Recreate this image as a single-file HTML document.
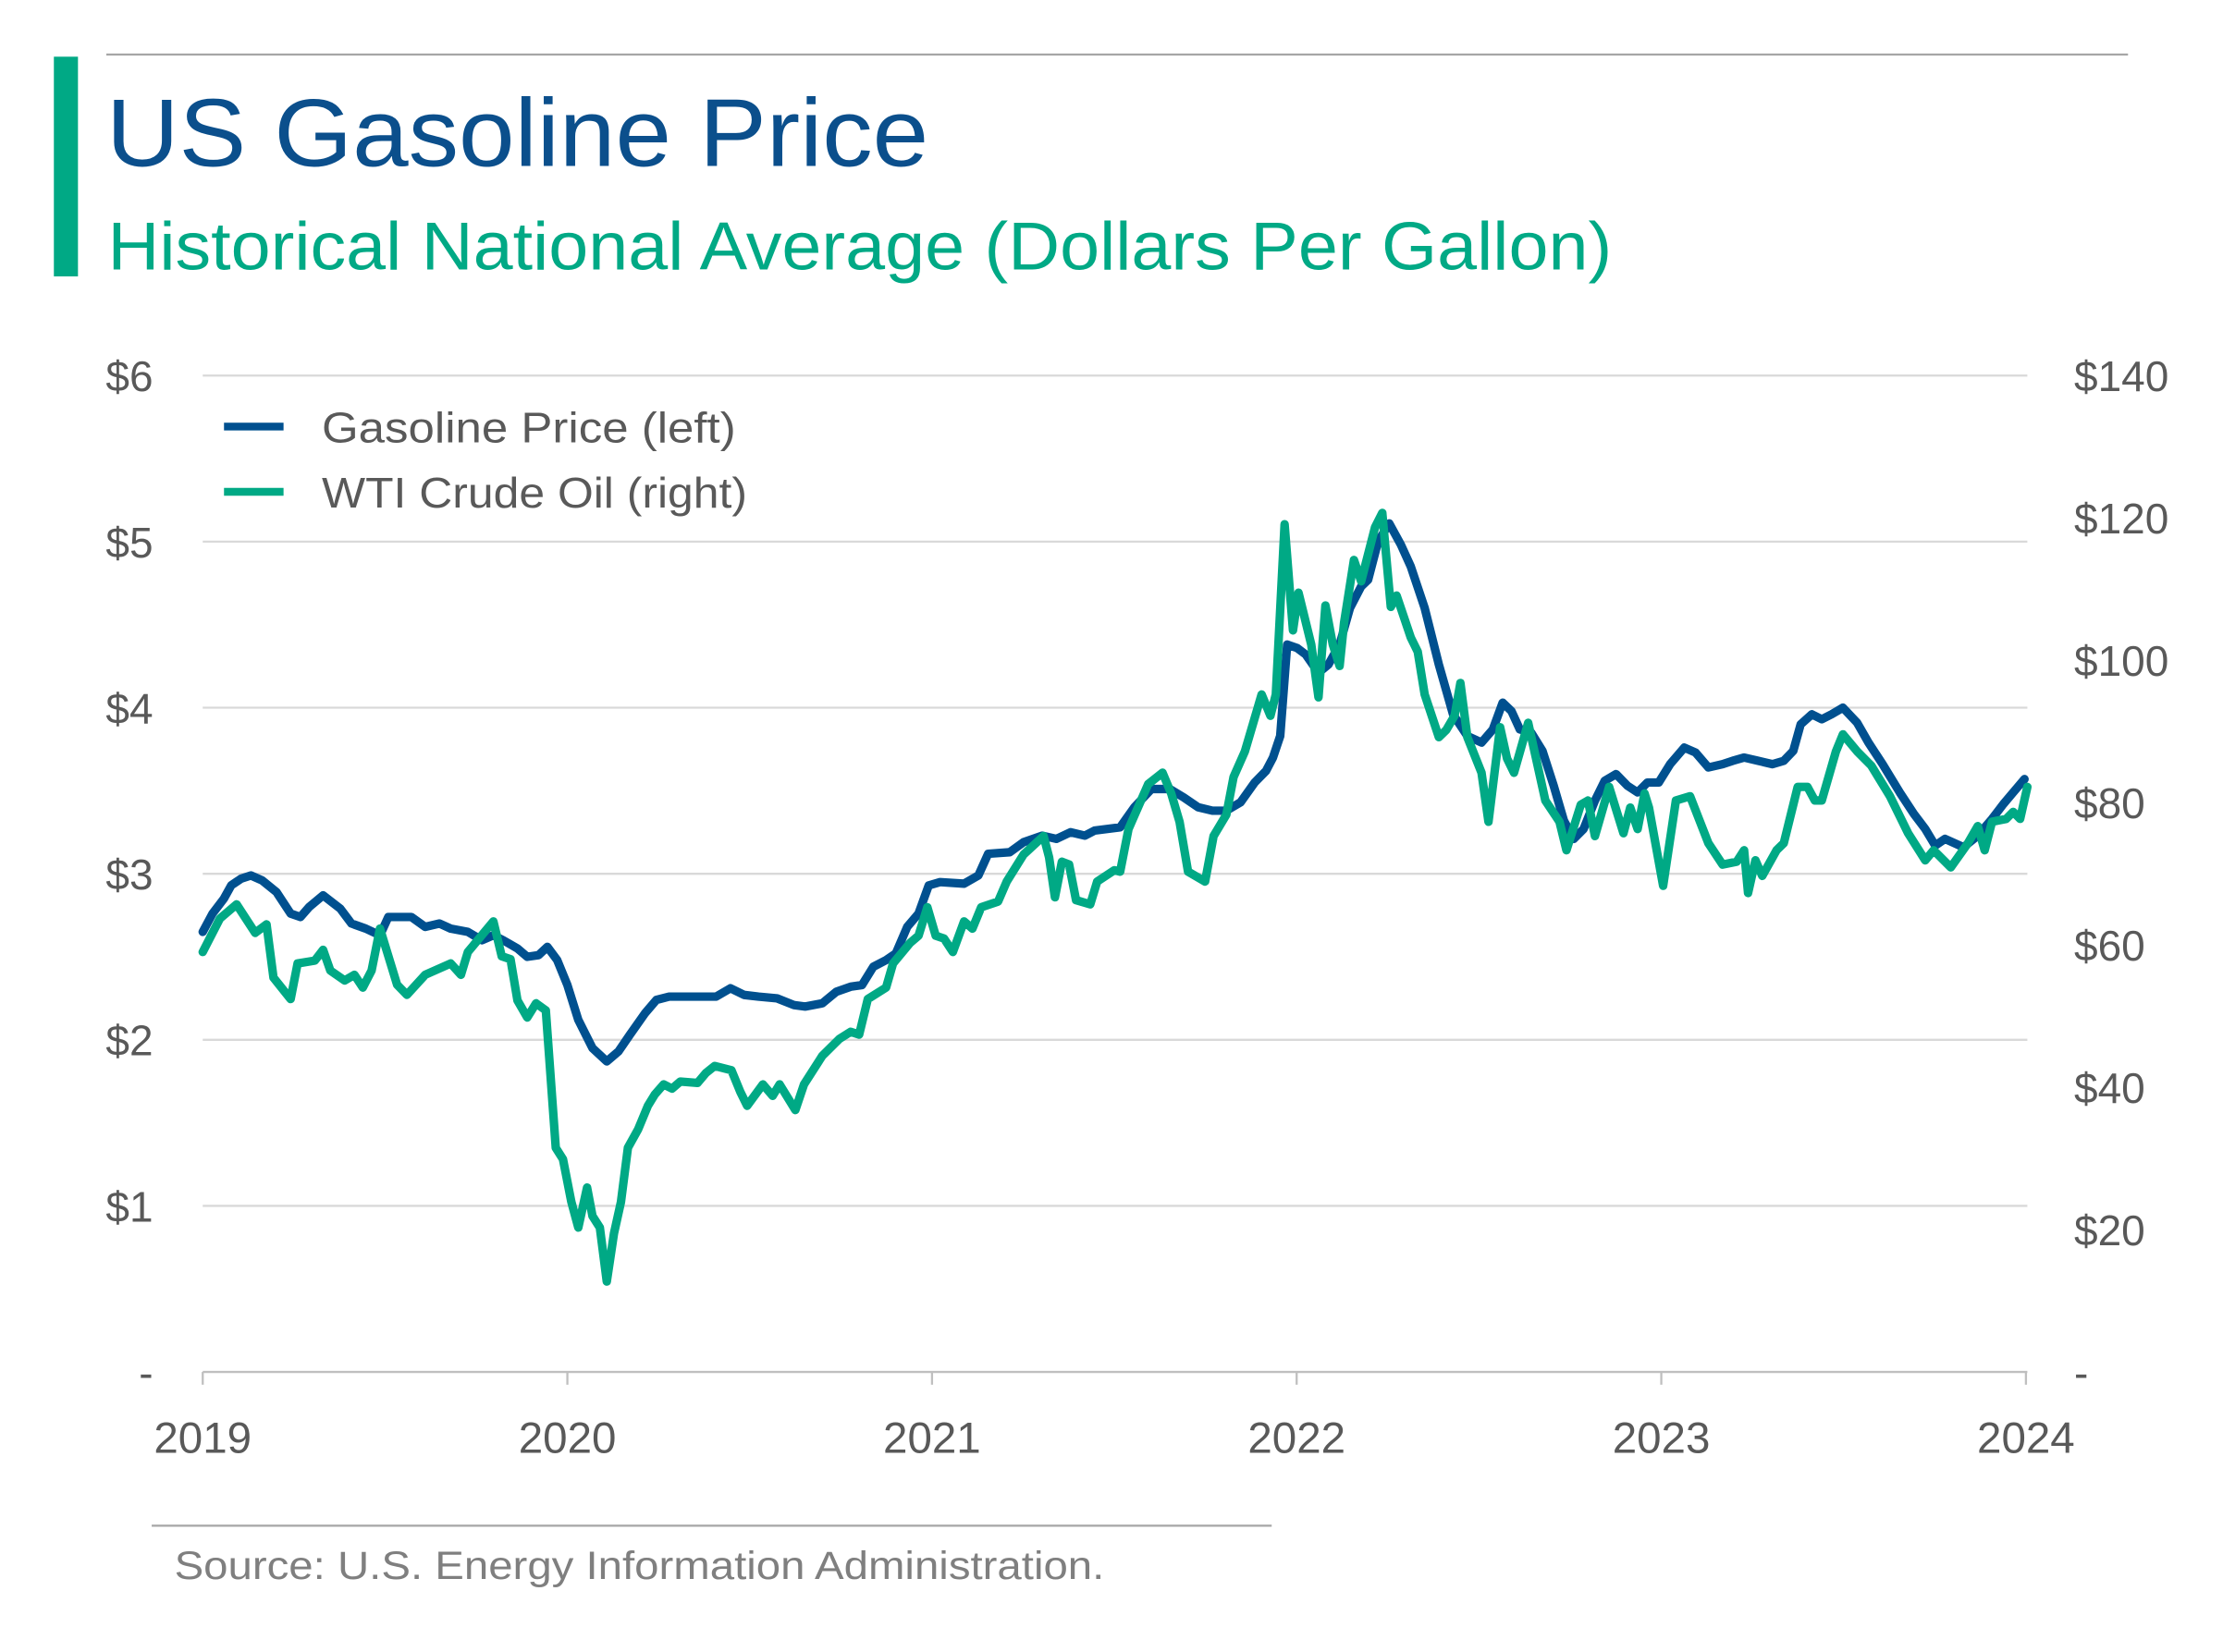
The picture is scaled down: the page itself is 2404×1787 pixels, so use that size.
<!DOCTYPE html>
<html><head><meta charset="utf-8"><style>
html,body{margin:0;padding:0;background:#fff;}
svg{display:block;font-family:"Liberation Sans",sans-serif;}
</style></head><body>
<svg id="chart" width="2404" height="1787" viewBox="0 0 1568 1165.6" preserveAspectRatio="none" xmlns="http://www.w3.org/2000/svg">
<line x1="75" y1="38.5" x2="1501" y2="38.5" stroke="#a6a6a6" stroke-width="1.5"/>
<rect x="38" y="40" width="17" height="155" fill="#00a985"/>
<text x="75" y="117" font-size="68" fill="#0b4f8c" textLength="580" lengthAdjust="spacingAndGlyphs">US Gasoline Price</text>
<text x="76" y="190" font-size="48" fill="#00a985" textLength="1061" lengthAdjust="spacingAndGlyphs">Historical National Average (Dollars Per Gallon)</text>
<g id="grid"></g>
<g id="axes"></g>
<g id="lines"></g>
<g>
<line x1="158" y1="301" x2="200" y2="301" stroke="#00508f" stroke-width="5.5"/>
<text x="227" y="312" font-size="30" fill="#595959" textLength="292" lengthAdjust="spacingAndGlyphs">Gasoline Price (left)</text>
<line x1="158" y1="347" x2="200" y2="347" stroke="#00a985" stroke-width="5.5"/>
<text x="227" y="358" font-size="30" fill="#595959" textLength="300" lengthAdjust="spacingAndGlyphs">WTI Crude Oil (right)</text>
</g>
<line x1="107" y1="1076.5" x2="897" y2="1076.5" stroke="#a6a6a6" stroke-width="1.5"/>
<text x="123" y="1114" font-size="28" fill="#7f7f7f" textLength="656" lengthAdjust="spacingAndGlyphs">Source: U.S. Energy Information Administration.</text>
</svg>
<script>
const leftTicks = [0,1,2,3,4,5,6];
const leftTickLabels = ["-","$1","$2","$3","$4","$5","$6"];
const rightTicks = [0,20,40,60,80,100,120,140];
const rightTickLabels = ["-","$20","$40","$60","$80","$100","$120","$140"];
const yearTicks = [2019,2020,2021,2022,2023,2024];
const yearLabels = ["2019","2020","2021","2022","2023","2024"];
const gasDates = [2019.000,2019.027,2019.058,2019.078,2019.105,2019.132,2019.163,2019.202,2019.241,2019.268,2019.292,2019.330,2019.377,2019.408,2019.447,2019.486,2019.509,2019.572,2019.610,2019.649,2019.680,2019.727,2019.766,2019.797,2019.824,2019.863,2019.890,2019.921,2019.945,2019.972,2020.000,2020.030,2020.069,2020.108,2020.140,2020.171,2020.213,2020.244,2020.279,2020.318,2020.369,2020.408,2020.447,2020.485,2020.524,2020.575,2020.621,2020.652,2020.699,2020.738,2020.777,2020.808,2020.839,2020.874,2020.901,2020.932,2020.963,2020.991,2021.022,2021.088,2021.127,2021.154,2021.213,2021.251,2021.302,2021.341,2021.380,2021.419,2021.446,2021.516,2021.555,2021.602,2021.652,2021.690,2021.730,2021.769,2021.807,2021.846,2021.885,2021.916,2021.935,2021.955,2021.974,2022.001,2022.025,2022.060,2022.087,2022.118,2022.146,2022.177,2022.196,2022.223,2022.254,2022.286,2022.313,2022.351,2022.390,2022.429,2022.468,2022.507,2022.538,2022.565,2022.589,2022.612,2022.643,2022.674,2022.705,2022.733,2022.760,2022.787,2022.818,2022.845,2022.876,2022.907,2022.935,2022.962,2022.993,2023.024,2023.063,2023.094,2023.129,2023.168,2023.196,2023.227,2023.266,2023.305,2023.336,2023.362,2023.382,2023.413,2023.440,2023.467,2023.498,2023.537,2023.568,2023.607,2023.654,2023.693,2023.724,2023.751,2023.778,2023.829,2023.868,2023.907,2023.938,2023.965,2023.996];
const gasPrices = [2.65,2.76,2.85,2.93,2.97,2.99,2.96,2.89,2.76,2.74,2.80,2.87,2.79,2.70,2.67,2.63,2.74,2.74,2.68,2.70,2.67,2.65,2.60,2.63,2.60,2.55,2.50,2.51,2.56,2.48,2.33,2.12,1.95,1.87,1.93,2.03,2.16,2.24,2.26,2.26,2.26,2.26,2.31,2.27,2.26,2.25,2.21,2.20,2.22,2.29,2.32,2.33,2.44,2.48,2.52,2.68,2.76,2.93,2.95,2.94,2.99,3.12,3.13,3.19,3.23,3.21,3.25,3.23,3.26,3.28,3.40,3.51,3.51,3.46,3.40,3.38,3.38,3.43,3.55,3.62,3.70,3.83,4.38,4.36,4.32,4.21,4.26,4.38,4.60,4.73,4.77,5.00,5.11,4.98,4.85,4.60,4.26,3.96,3.83,3.79,3.87,4.03,3.98,3.87,3.85,3.74,3.53,3.32,3.21,3.27,3.44,3.56,3.60,3.53,3.49,3.55,3.55,3.66,3.76,3.73,3.64,3.66,3.68,3.70,3.68,3.66,3.68,3.74,3.90,3.96,3.93,3.96,4.00,3.91,3.79,3.66,3.49,3.36,3.27,3.17,3.21,3.16,3.23,3.33,3.42,3.49,3.57];
const wtiDates = [2019.000,2019.047,2019.093,2019.144,2019.175,2019.194,2019.241,2019.260,2019.307,2019.330,2019.350,2019.389,2019.416,2019.439,2019.463,2019.486,2019.533,2019.560,2019.610,2019.680,2019.708,2019.727,2019.797,2019.820,2019.844,2019.863,2019.890,2019.914,2019.941,2019.968,2019.988,2020.011,2020.030,2020.054,2020.069,2020.089,2020.108,2020.128,2020.147,2020.166,2020.194,2020.221,2020.240,2020.264,2020.287,2020.310,2020.357,2020.380,2020.404,2020.450,2020.474,2020.493,2020.536,2020.563,2020.582,2020.606,2020.625,2020.649,2020.699,2020.746,2020.777,2020.800,2020.824,2020.874,2020.893,2020.940,2020.963,2020.987,2021.010,2021.033,2021.057,2021.088,2021.111,2021.135,2021.181,2021.205,2021.251,2021.306,2021.321,2021.337,2021.356,2021.376,2021.395,2021.434,2021.453,2021.500,2021.516,2021.539,2021.593,2021.632,2021.656,2021.679,2021.702,2021.749,2021.772,2021.807,2021.827,2021.858,2021.904,2021.928,2021.943,2021.967,2021.990,2022.005,2022.040,2022.060,2022.079,2022.099,2022.118,2022.130,2022.157,2022.177,2022.215,2022.235,2022.258,2022.274,2022.313,2022.332,2022.351,2022.390,2022.410,2022.433,2022.449,2022.468,2022.507,2022.526,2022.558,2022.577,2022.596,2022.635,2022.682,2022.721,2022.740,2022.779,2022.799,2022.818,2022.857,2022.896,2022.915,2022.935,2022.954,2022.966,2023.005,2023.040,2023.079,2023.129,2023.168,2023.207,2023.227,2023.238,2023.258,2023.277,2023.316,2023.336,2023.374,2023.401,2023.421,2023.440,2023.479,2023.498,2023.537,2023.576,2023.627,2023.677,2023.724,2023.747,2023.794,2023.841,2023.868,2023.887,2023.907,2023.946,2023.965,2023.984,2024.004];
const wtiPrices = [59.0,63.7,65.7,61.7,62.9,55.4,52.4,57.4,57.8,59.3,56.4,55.0,55.8,54.0,56.4,62.3,54.4,53.0,55.8,57.4,55.8,59.0,63.3,58.4,58.0,52.2,49.8,51.8,50.8,31.5,29.9,23.9,20.3,25.9,21.9,20.3,12.7,19.5,23.9,31.5,34.1,37.4,39.0,40.4,39.8,40.8,40.6,42.0,43.0,42.4,39.4,37.4,40.4,38.8,40.4,38.4,36.8,40.4,44.4,46.8,47.8,47.4,52.4,54.0,57.4,60.3,61.3,65.3,61.3,60.9,59.0,63.3,62.3,65.3,66.1,68.9,72.7,75.3,72.3,66.7,71.7,71.3,66.3,65.7,68.9,70.5,70.3,76.3,82.6,84.2,81.3,77.3,70.3,68.9,75.3,78.3,83.6,87.2,95.2,92.2,95.2,119.1,104.2,109.5,102.2,94.8,107.7,102.2,99.2,105.2,114.1,111.1,118.7,120.7,107.5,109.1,103.2,101.2,95.2,89.2,90.2,92.2,96.8,89.2,84.2,77.3,90.6,86.2,84.2,91.2,80.3,77.3,73.3,79.7,80.3,75.3,82.2,75.7,79.3,76.3,81.3,79.3,68.3,80.3,80.9,74.3,71.3,71.7,73.3,67.3,71.9,69.7,73.3,74.3,82.2,82.2,80.3,80.3,87.2,89.6,87.2,85.2,80.9,75.7,71.9,73.3,70.9,74.3,76.7,73.3,77.3,77.7,78.7,77.7,82.2];

const NS = "http://www.w3.org/2000/svg";
const X0 = 143, X1 = 1429, YTOP = 265, YBOT = 968;
function xScale(t){ return X0 + (t - 2019) / 5 * (X1 - X0); }
function yLeft(v){ return YBOT - v / 6 * (YBOT - YTOP); }
function yRight(v){ return YBOT - v / 140 * (YBOT - YTOP); }
function mk(tag, attrs, parent){
  const e = document.createElementNS(NS, tag);
  for (const k in attrs) e.setAttribute(k, attrs[k]);
  parent.appendChild(e);
  return e;
}
const grid = document.getElementById('grid');
const axes = document.getElementById('axes');
const lines = document.getElementById('lines');

leftTicks.forEach((v, i) => {
  const y = yLeft(v);
  if (v > 0) {
    const g = mk('line', {x1: X0, x2: 1430, y1: y, y2: y, stroke: '#d9d9d9', 'stroke-width': 1.5}, grid);
    
    
  }
  const t = mk('text', {x: 108, y: y + 11, 'font-size': 30, fill: '#595959', 'text-anchor': 'end'}, axes);
  t.textContent = leftTickLabels[i];
  
  
});
rightTicks.forEach((v, i) => {
  const y = yRight(v);
  const t = mk('text', {x: 1463, y: y + 11, 'font-size': 30, fill: '#595959'}, axes);
  t.textContent = rightTickLabels[i];
  
  
});
const ax = mk('line', {x1: X0, x2: 1430, y1: YBOT, y2: YBOT, stroke: '#bfbfbf', 'stroke-width': 1.5}, axes);


yearTicks.forEach((yr, i) => {
  const x = xScale(yr);
  const tk = mk('line', {x1: x, x2: x, y1: YBOT, y2: YBOT + 9, stroke: '#bfbfbf', 'stroke-width': 1.5}, axes);
  
  
  const t = mk('text', {x: x, y: 1025, 'font-size': 31, fill: '#595959', 'text-anchor': 'middle'}, axes);
  t.textContent = yearLabels[i];
  
  
});
function pathOf(dates, vals, ys){
  return dates.map((d, i) => (i ? 'L' : 'M') + xScale(d).toFixed(1) + ',' + ys(vals[i]).toFixed(1)).join(' ');
}
const gl = mk('path', {d: pathOf(gasDates, gasPrices, yLeft), fill: 'none', stroke: '#00508f', 'stroke-width': 6, 'stroke-linejoin': 'round', 'stroke-linecap': 'round'}, lines);


const wl = mk('path', {d: pathOf(wtiDates, wtiPrices, yRight), fill: 'none', stroke: '#00a985', 'stroke-width': 6, 'stroke-linejoin': 'round', 'stroke-linecap': 'round'}, lines);


</script>
</body></html>
